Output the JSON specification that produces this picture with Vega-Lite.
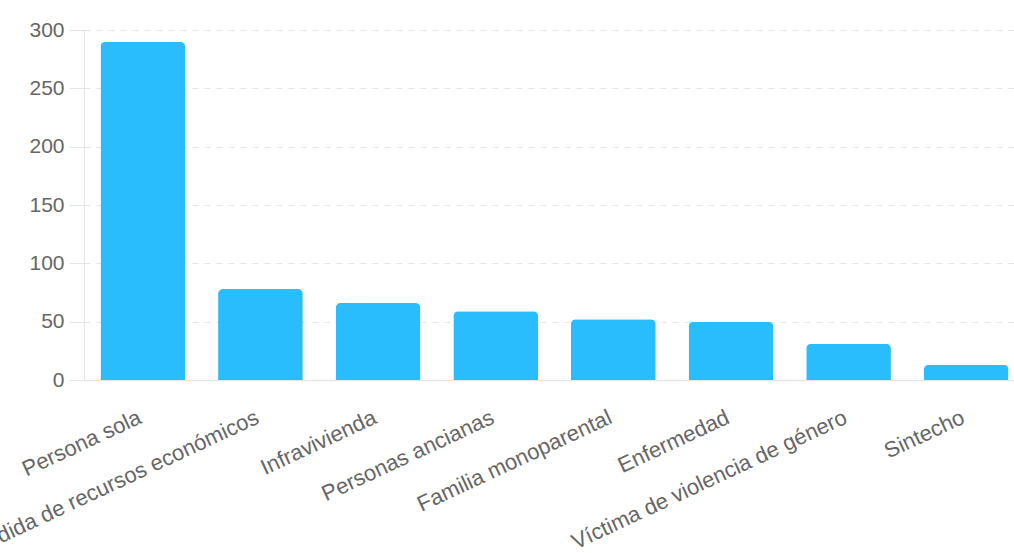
{
  "$schema": "https://vega.github.io/schema/vega-lite/v6.json",
  "autosize": "none",
  "width": 941,
  "height": 350,
  "padding": {"left": 84, "top": 30, "right": 0, "bottom": 173},
  "background": "white",
  "data": {
    "values": [
      {"categoria": "Persona sola", "valor": 290},
      {"categoria": "Pérdida de recursos económicos", "valor": 78},
      {"categoria": "Infravivienda", "valor": 66},
      {"categoria": "Personas ancianas", "valor": 59},
      {"categoria": "Familia monoparental", "valor": 52},
      {"categoria": "Enfermedad", "valor": 50},
      {"categoria": "Víctima de violencia de género", "valor": 31},
      {"categoria": "Sintecho", "valor": 13}
    ]
  },
  "mark": {"type": "bar", "color": "#29BDFD", "cornerRadiusTopLeft": 5, "cornerRadiusTopRight": 5},
  "encoding": {
    "x": {
      "field": "categoria",
      "type": "nominal",
      "sort": null,
      "title": null,
      "scale": {"paddingInner": 0.28, "paddingOuter": 0.14},
      "axis": {
        "labelAngle": -25,
        "labelAlign": "right",
        "labelBaseline": "alphabetic",
        "labelFont": "Liberation Sans",
        "labelFontSize": 22,
        "labelColor": "#666666",
        "labelPadding": 42,
        "ticks": false,
        "domainColor": "#e5e5e5",
        "domainWidth": 1.5,
        "labelLimit": 0,
        "labelOverlap": false
      }
    },
    "y": {
      "field": "valor",
      "type": "quantitative",
      "title": null,
      "scale": {"domain": [0, 300]},
      "axis": {
        "values": [0, 50, 100, 150, 200, 250, 300],
        "labelFont": "Liberation Sans",
        "labelFontSize": 21,
        "labelColor": "#666666",
        "labelPadding": 5,
        "tickSize": 15,
        "tickColor": "#e5e5e5",
        "domainColor": "#e5e5e5",
        "gridColor": "#e5e5e5",
        "gridDash": [6, 6],
        "gridWidth": 1
      }
    }
  },
  "config": {"view": {"stroke": null}}
}
